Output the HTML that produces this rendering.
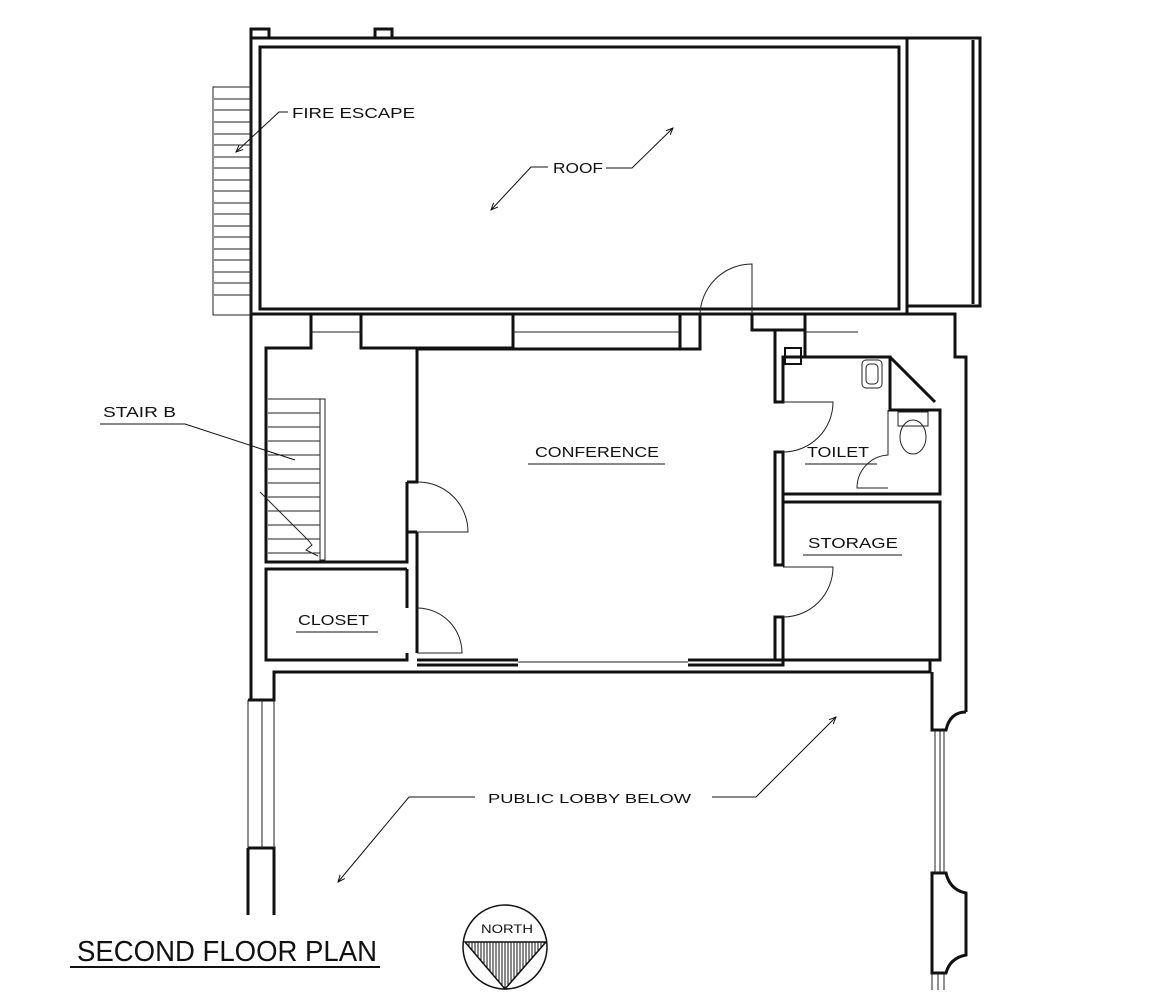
<!DOCTYPE html>
<html><head><style>
html,body{margin:0;padding:0;background:#fff;}
svg{display:block;}
text{font-family:"Liberation Sans",sans-serif;fill:#111;}
</style></head><body>
<svg width="1150" height="1004" viewBox="0 0 1150 1004" xmlns="http://www.w3.org/2000/svg">
<defs><marker id="ar" markerWidth="8" markerHeight="8" refX="7" refY="4" orient="auto"><path d="M0,1 L7,4 L0,7" fill="none" stroke="#111" stroke-width="1"/></marker></defs>
<g fill="none" stroke="#111" stroke-width="3">
<rect x="251" y="38" width="656" height="276"/>
<rect x="260" y="47" width="639" height="262"/>
<path d="M251,38 V29 H269 V38 M375,38 V29 H392 V38"/>
<rect x="907" y="38" width="73" height="268"/>
<line x1="973" y1="40" x2="973" y2="304"/>
<path d="M251,314 V700"/>
<path d="M311,314 V348 H266 V562 H407 V482"/>
<path d="M361,314 V348 H513 V314"/>
<path d="M407,482 H417 V349 H680 V314"/>
<path d="M417,532 H407 V562"/>
<path d="M417,532 V653"/>
<path d="M407,569 H266 V660 H407 V653 M407,608 V569"/>
<path d="M680,349 H700 V314"/>
<path d="M752,314 V330 H805 V314 M858,314 H955 V357 H966 V712"/>
<path d="M752,330 H775 V402 H783 V357 H805 V330"/>
<rect x="785" y="348" width="16" height="16" stroke-width="2"/>
<path d="M775,452 V565 H783 V452 Z"/>
<path d="M775,617 V660 H783 V617 Z"/>
<path d="M783,357 H890 V410 H940 V494 H783"/>
<path d="M890,357 L935,402"/>
<path d="M783,502 H940 V660 H783"/>
<path d="M417,660 H518 M688,660 H775"/>
<path d="M417,665 H518 M688,665 H783 V660"/>
<path d="M248,700 H274 V672 H930 V660"/>
<path d="M966,712 Q950,712 946,730 H932 V672"/>
<path d="M932,873 H946 Q950,890 966,893 V955 Q950,958 946,973 H932 Z"/>
<path d="M248,848 H274 V915 M248,848 V915"/>
</g>
<g fill="none" stroke="#222" stroke-width="1">
<rect x="213" y="87" width="38" height="228"/>
<path d="M214,99H251M214,110H251M214,122H251M214,134H251M214,145H251M214,157H251M214,168H251M214,180H251M214,191H251M214,203H251M214,214H251M214,226H251M214,237H251M214,249H251M214,260H251M214,272H251M214,283H251M214,295H251"/>
<path d="M311,332 H361 M513,332 H680 M805,332 H858"/>
<path d="M518,662 H688"/>
<path d="M248,700 V848 M262,700 V848 M274,700 V848"/>
<path d="M935,730 V873 M940,730 V873 M944,730 V873"/>
<path d="M932,973 V990 M938,973 V990 M944,973 V990"/>
<path d="M752,314 V264 A52,52 0 0 0 700,316"/>
<path d="M417,532 H468 A50,50 0 0 0 418,482"/>
<path d="M417,653 H462 A45,45 0 0 0 418,608"/>
<path d="M783,402 H833 A50,50 0 0 1 783,452"/>
<path d="M783,567 H833 A50,50 0 0 1 783,617"/>
<path d="M888,488 H857 A33,33 0 0 1 888,455 V410"/>
<rect x="862" y="360" width="20" height="28" rx="4"/>
<rect x="866" y="364" width="12" height="20" rx="4"/>
<rect x="898" y="412" width="30" height="14"/>
<ellipse cx="913" cy="437" rx="13" ry="17"/>
<path d="M268,399H320M268,413H320M268,427H320M268,441H320M268,455H320M268,469H320M268,483H320M268,497H320M268,511H320M268,525H320M268,539H320M268,553H320"/>
<rect x="320" y="399" width="5" height="161"/>
<path d="M260,492 L308,540 L312,545 L306,550 L318,556"/>
</g>
<g fill="none" stroke="#111" stroke-width="1">
<path d="M288,112 H279 L236,152" marker-end="url(#ar)"/>
<path d="M548,167 H531 L491,210" marker-end="url(#ar)"/>
<path d="M606,168 H632 L673,128" marker-end="url(#ar)"/>
<path d="M100,424 H185 L295,460"/>
<path d="M475,797 H409 L338,882" marker-end="url(#ar)"/>
<path d="M712,797 H756 L836,717" marker-end="url(#ar)"/>
<path d="M528,464 H665 M805,464 H877 M803,555 H902 M296,632 H378"/>
<line x1="70" y1="967" x2="380" y2="967" stroke-width="2"/>
</g>
<g font-size="15">
<text x="292" y="118" textLength="123" lengthAdjust="spacingAndGlyphs">FIRE ESCAPE</text>
<text x="553" y="173" textLength="50" lengthAdjust="spacingAndGlyphs">ROOF</text>
<text x="103" y="417" textLength="73" lengthAdjust="spacingAndGlyphs">STAIR B</text>
<text x="535" y="457" textLength="124" lengthAdjust="spacingAndGlyphs">CONFERENCE</text>
<text x="807" y="457" textLength="62" lengthAdjust="spacingAndGlyphs">TOILET</text>
<text x="808" y="548" textLength="90" lengthAdjust="spacingAndGlyphs">STORAGE</text>
<text x="298" y="625" textLength="71" lengthAdjust="spacingAndGlyphs">CLOSET</text>
<text x="488" y="803" font-size="13" textLength="203" lengthAdjust="spacingAndGlyphs">PUBLIC LOBBY BELOW</text>
<text x="77" y="961" font-size="29" textLength="300" lengthAdjust="spacingAndGlyphs">SECOND FLOOR PLAN</text>
<text x="481" y="933" font-size="12" textLength="52" lengthAdjust="spacingAndGlyphs">NORTH</text>
</g>
<circle cx="505" cy="947" r="42" fill="none" stroke="#111" stroke-width="1.5"/>
<defs><pattern id="hv" width="3" height="4" patternUnits="userSpaceOnUse"><line x1="1" y1="0" x2="1" y2="4" stroke="#111" stroke-width="1"/></pattern></defs>
<path d="M465,942 H546 L505,989 Z" fill="url(#hv)" stroke="#111" stroke-width="1.5"/>
</svg>
</body></html>
